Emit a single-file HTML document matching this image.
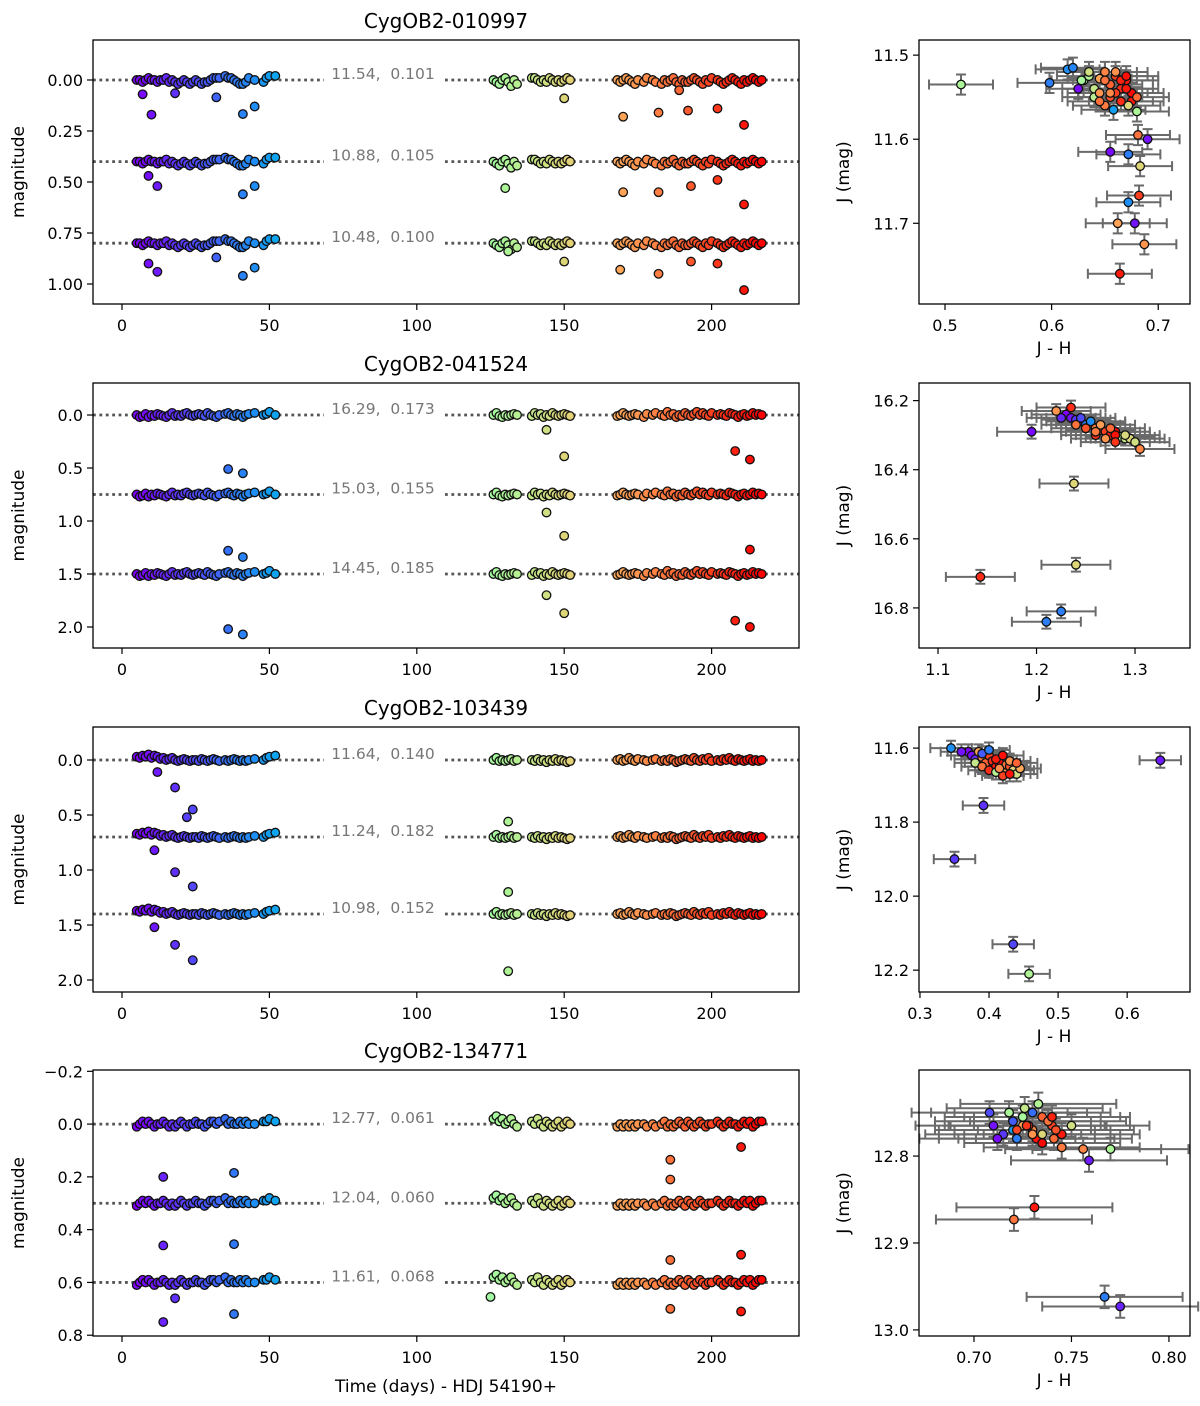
<!DOCTYPE html>
<html><head><meta charset="utf-8"><style>
html,body{margin:0;padding:0;background:#fff}
svg{display:block;font-family:"DejaVu Sans","Liberation Sans",sans-serif}
</style></head><body>
<svg id="fig" width="1200" height="1406" viewBox="0 0 1200 1406" xmlns="http://www.w3.org/2000/svg"></svg>
<script>
// ---- light curve data ----
const times = [5,6,7,8,9,10,11,12,13,14,15,16,17,18,19,20,21,22,23,24,25,26,27,28,29,30,31,32,33,35,36,37,38,39,40,41,42,43,45,48,49,50,52,
126,127,128,129,130,131,132,133,134,139,140,141,142,143,144,145,146,147,148,149,150,151,152,
168,169,170,171,172,173,174,175,177,178,180,181,183,184,185,186,187,188,189,190,191,192,193,194,195,196,197,198,199,200,202,203,204,205,206,207,208,209,210,211,212,213,214,215,216,217];
const dev1 = [0,0,1,0,-1,0,0,1,0,0,-1,1,0,1,2,1,0,1,2,1,0,1,2,1,1,0,-1,-1,-1,-2,-1,-1,0,1,2,2,1,-1,0,1,-1,-2,-2,
0,1,2,0,-1,1,3,0,2,-1,-1,0,1,0,1,-1,0,1,0,1,0,-1,0,
0,1,0,-1,0,1,2,0,1,-1,0,1,2,0,1,0,-1,1,2,0,1,1,0,-1,0,1,2,0,1,-1,0,1,2,1,0,-1,0,1,2,0,1,0,-1,0,1,0];
const dev2 = [0,2,1,-1,2,0,1,-1,0,1,2,0,-2,1,0,1,-1,-2,0,1,0,-1,0,1,-2,0,1,2,0,-1,-2,0,1,-1,0,2,0,-1,-2,0,-1,-3,0,
0,-2,1,2,0,1,0,-1,0,1,-2,0,-1,2,0,1,-2,0,1,0,-1,0,1,
1,0,-2,0,1,0,-1,0,2,-1,0,-2,0,1,-3,0,-1,2,0,1,-2,0,1,-1,-3,0,-2,0,1,-2,0,-1,0,1,-2,-1,0,2,0,-1,1,0,-2,0,-1,0];
const dev3 = [-3,-2,-4,-3,-5,-2,-4,-3,-1,-2,0,-1,-2,0,1,0,-1,0,1,0,0,1,-1,0,1,0,-1,0,1,0,1,0,-1,0,1,0,1,0,-1,0,-2,-3,-4,
0,-2,1,0,1,0,-1,1,0,0,1,-1,1,0,2,0,1,-1,1,0,1,2,1,
0,-1,1,0,-2,0,1,-1,0,1,0,-1,1,0,1,-1,0,2,1,0,-1,0,1,-2,0,1,-1,0,-2,1,0,1,-1,0,-2,0,1,-1,0,1,0,-1,1,0,1,0];
const dev4 = [1,0,-1,0,-1,0,1,0,0,-1,0,1,0,1,0,-1,0,1,0,0,-1,0,0,1,0,-1,-1,0,-1,-2,0,-1,0,0,-1,0,-1,0,0,-1,-1,-2,-1,
-2,-3,-1,-2,0,-1,-2,0,1,-1,0,-2,0,1,-1,0,1,0,-1,1,0,-1,0,
1,0,1,0,1,0,1,0,0,1,0,1,0,-1,1,0,1,0,-1,0,1,-1,0,1,0,-1,0,1,0,0,-1,0,1,0,-1,0,0,1,0,-1,0,-1,1,0,-1,-1];
const titles = ["CygOB2-010997","CygOB2-041524","CygOB2-103439","CygOB2-134771"];
const offsets1 = [0,0.4,0.8], offsets2 = [0,0.75,1.5], offsets3 = [0,0.7,1.4], offsets4 = [0,0.3,0.6];
const labels1 = ["11.54,  0.101","10.88,  0.105","10.48,  0.100"];
const labels2 = ["16.29,  0.173","15.03,  0.155","14.45,  0.185"];
const labels3 = ["11.64,  0.140","11.24,  0.182","10.98,  0.152"];
const labels4 = ["12.77,  0.061","12.04,  0.060","11.61,  0.068"];
const outl1 = [[7,0.07],[10,0.17],[18,0.065],[32,0.085],[41,0.167],[45,0.13],[150,0.09],[170,0.18],[182,0.16],[189,0.05],[192,0.15],[202,0.14],[211,0.22],
[9,0.47],[12,0.52],[41,0.56],[45,0.52],[130,0.53],[170,0.55],[182,0.55],[193,0.52],[202,0.49],[211,0.61],
[9,0.90],[12,0.94],[32,0.87],[41,0.96],[45,0.92],[131,0.84],[150,0.89],[169,0.93],[182,0.95],[193,0.89],[202,0.90],[211,1.03]];
const outl2 = [[144,0.14],[150,0.39],[208,0.34],[213,0.42],[36,0.51],[41,0.55],[144,0.92],[150,1.14],
[36,1.28],[41,1.34],[144,1.70],[150,1.87],[36,2.02],[41,2.07],[208,1.94],[213,2.0],[213,1.27]];
const outl3 = [[12,0.11],[18,0.25],[22,0.52],[24,0.45],[11,0.82],[18,1.02],[24,1.15],[131,0.56],
[11,1.52],[18,1.68],[24,1.82],[131,1.20],[131,1.92]];
const outl4 = [[14,0.2],[38,0.185],[186,0.135],[186,0.21],[210,0.087],[14,0.46],[38,0.455],[186,0.515],[210,0.495],
[14,0.75],[18,0.66],[38,0.72],[186,0.70],[210,0.71],[125,0.655]];
const yTicks1 = [0,0.25,0.5,0.75,1.0], yTickLab1 = ["0.00","0.25","0.50","0.75","1.00"];
const yTicks2 = [0,0.5,1,1.5,2], yTickLab2 = ["0.0","0.5","1.0","1.5","2.0"];
const yTicks4 = [-0.2,0,0.2,0.4,0.6,0.8], yTickLab4 = ["\u22120.2","0.0","0.2","0.4","0.6","0.8"];
const xTicks = [0,50,100,150,200];
// ---- colour-magnitude data ----
const cmJH1 = [0.63,0.635,0.64,0.645,0.65,0.655,0.66,0.665,0.67,0.675,0.64,0.645,0.65,0.655,0.66,0.665,0.67,0.675,0.68,0.65,0.655,0.66,0.665,0.67,0.628,0.625,0.635,0.658,0.645,0.672,
0.515,0.598,0.615,0.62,0.69,0.655,0.672,0.683,0.682,0.672,0.662,0.678,0.687,0.664,0.681,0.680];
const cmJ1 = [11.53,11.525,11.54,11.528,11.52,11.535,11.525,11.54,11.53,11.545,11.55,11.545,11.53,11.55,11.545,11.555,11.54,11.555,11.55,11.56,11.545,11.52,11.53,11.525,11.53,11.54,11.52,11.565,11.555,11.56,
11.535,11.533,11.517,11.515,11.60,11.615,11.618,11.632,11.667,11.675,11.70,11.70,11.725,11.76,11.595,11.567];
const cmT1 = [130,132,140,170,180,190,200,205,210,215,135,175,185,195,200,205,210,212,188,183,178,176,208,213,128,8,145,50,186,150,
130,40,45,42,10,8,40,150,200,45,170,10,175,210,185,130];
const cmJH2 = [1.23,1.235,1.24,1.245,1.25,1.255,1.26,1.265,1.27,1.275,1.28,1.285,1.29,1.295,1.30,1.24,1.25,1.26,1.27,1.28,1.29,1.245,1.255,1.265,1.275,1.225,1.235,1.26,1.28,1.22,
1.238,1.143,1.24,1.225,1.21,1.195,1.305];
const cmJ2 = [16.24,16.25,16.255,16.26,16.27,16.265,16.28,16.285,16.29,16.3,16.29,16.305,16.31,16.31,16.32,16.27,16.28,16.3,16.31,16.3,16.3,16.25,16.26,16.27,16.28,16.25,16.22,16.29,16.32,16.23,
16.44,16.71,16.675,16.81,16.84,16.29,16.34];
const cmT2 = [5,10,20,30,40,170,180,190,200,210,215,130,140,150,145,185,195,205,175,212,148,25,45,172,188,15,205,183,203,175,
150,205,150,40,40,8,180];
const cmJH3 = [0.37,0.375,0.38,0.385,0.39,0.395,0.40,0.405,0.41,0.415,0.42,0.425,0.43,0.435,0.44,0.38,0.39,0.40,0.41,0.42,0.43,0.445,0.39,0.40,0.41,0.42,0.43,0.36,0.44,0.415,
0.345,0.648,0.392,0.35,0.435,0.458];
const cmJ3 = [11.61,11.62,11.63,11.61,11.625,11.64,11.62,11.635,11.65,11.64,11.66,11.645,11.65,11.66,11.67,11.64,11.65,11.66,11.63,11.62,11.635,11.655,11.615,11.605,11.665,11.675,11.67,11.61,11.64,11.655,
11.60,11.633,11.755,11.90,12.13,12.21];
const cmT3 = [5,8,15,170,180,190,200,205,210,215,172,185,195,150,145,140,185,205,210,213,175,168,30,40,135,200,212,10,190,178,
45,12,18,20,24,131];
const cmJH4 = [0.71,0.715,0.72,0.725,0.73,0.735,0.74,0.745,0.718,0.722,0.728,0.732,0.738,0.742,0.726,0.73,0.735,0.74,0.72,0.725,0.73,0.735,0.712,0.745,0.75,0.708,0.722,0.733,0.741,0.727,
0.7205,0.731,0.767,0.775,0.77,0.759,0.756];
const cmJ4 = [12.765,12.775,12.76,12.765,12.77,12.755,12.765,12.775,12.75,12.78,12.765,12.78,12.76,12.77,12.745,12.775,12.785,12.755,12.77,12.755,12.75,12.775,12.78,12.79,12.765,12.75,12.77,12.74,12.78,12.765,
12.873,12.859,12.962,12.973,12.792,12.805,12.792];
const cmT4 = [10,20,30,170,180,190,200,210,130,40,205,212,185,195,140,175,215,208,50,128,35,150,8,183,145,25,198,132,188,202,
185,210,40,14,130,12,180];
const errJH = [0.03,0.035,0.03,0.04], errJ = [0.012,0.02,0.02,0.013];
const cmXT = [[0.5,0.6,0.7],[1.1,1.2,1.3],[0.3,0.4,0.5,0.6],[0.70,0.75,0.80]];
const cmXL = [["0.5","0.6","0.7"],["1.1","1.2","1.3"],["0.3","0.4","0.5","0.6"],["0.70","0.75","0.80"]];
const cmYT = [[11.5,11.6,11.7],[16.2,16.4,16.6,16.8],[11.6,11.8,12.0,12.2],[12.8,12.9,13.0]];
const cmYL = [["11.5","11.6","11.7"],["16.2","16.4","16.6","16.8"],["11.6","11.8","12.0","12.2"],["12.8","12.9","13.0"]];

const NS="http://www.w3.org/2000/svg";
const svg=document.getElementById('fig');
function el(tag,attrs,parent,txt){const e=document.createElementNS(NS,tag);for(const k in attrs)e.setAttribute(k,attrs[k]);if(txt!==undefined)e.textContent=txt;(parent||svg).appendChild(e);return e;}
function rainbow(t){const x=Math.max(0,Math.min(1,(t-5)/212));const r=Math.min(1,Math.abs(2*x-0.5)),g=Math.sin(Math.PI*x),b=Math.cos(Math.PI*x/2);
return `rgb(${Math.round(r*255)},${Math.round(g*255)},${Math.round(b*255)})`;}

const panTop=[40,383,727,1070], panBot=[304,648,992,1336];
const LX0=93,LX1=799,RX0=919,RX1=1190;
const xLin=t=>122+(t)*2.948;
const yDom=[[-0.196,1.098],[-0.302,2.198],[-0.3,2.109],[-0.205,0.803]];
const devs=[dev1,dev2,dev3,dev4], offs=[offsets1,offsets2,offsets3,offsets4], labs=[labels1,labels2,labels3,labels4], outs=[outl1,outl2,outl3,outl4];
const yts=[yTicks1,yTicks2,yTicks2,yTicks4], ytl=[yTickLab1,yTickLab2,yTickLab2,yTickLab4];
const cmX=[[0.4756,0.7298],[1.0807,1.3558],[0.2986,0.691],[0.6718,0.8108]];
const cmY=[[11.482,11.796],[16.149,16.916],[11.543,12.259],[12.701,13.007]];
const cmData=[[cmJH1,cmJ1,cmT1],[cmJH2,cmJ2,cmT2],[cmJH3,cmJ3,cmT3],[cmJH4,cmJ4,cmT4]];

for(let p=0;p<4;p++){
  const top=panTop[p],bot=panBot[p];
  const yS=v=>top+(v-yDom[p][0])/(yDom[p][1]-yDom[p][0])*(bot-top);
  const g=el('g',{});
  
  
  const t=el('text',{x:446,y:top-12,'font-size':20,'text-anchor':'middle',fill:'#000'},g,titles[p]);
  
  
  offs[p].forEach((o,k)=>{
    const ln=el('line',{x1:LX0,x2:LX1,y1:yS(o),y2:yS(o),stroke:'#555','stroke-width':2.8,'stroke-dasharray':'2.8,3.6'},g);
    
    
    el('rect',{x:324,y:yS(o)-10,width:118,height:16,fill:'#fff'},g);
    const lt=el('text',{x:383,y:yS(o)-1,'font-size':15.5,'text-anchor':'middle',fill:'#777','xml:space':'preserve'},g,labs[p][k]);
    lt.style.whiteSpace='pre';
    
    
  });
  offs[p].forEach(o=>{
    times.forEach((tm,i)=>{
      const c=el('circle',{cx:xLin(tm),cy:yS(o+devs[p][i]/100),r:4.3,fill:rainbow(tm),stroke:'#111','stroke-width':1.3},g);
      
      
    });
  });
  outs[p].forEach(([tm,v])=>{
    const c=el('circle',{cx:xLin(tm),cy:yS(v),r:4.3,fill:rainbow(tm),stroke:'#111','stroke-width':1.3},g);
    
    
  });
  const fr=el('rect',{x:LX0,y:top,width:LX1-LX0,height:bot-top,fill:'none',stroke:'#000','stroke-width':1.3},g);
  
  
  yts[p].forEach((v,k)=>{
    el('line',{x1:LX0-6,x2:LX0,y1:yS(v),y2:yS(v),stroke:'#000','stroke-width':1.2},g);
    const tl=el('text',{x:LX0-10,y:yS(v)+6,'font-size':16,'text-anchor':'end'},g,ytl[p][k]);
    
    
  });
  xTicks.forEach(v=>{
    el('line',{x1:xLin(v),x2:xLin(v),y1:bot,y2:bot+6,stroke:'#000','stroke-width':1.2},g);
    const tl=el('text',{x:xLin(v),y:bot+27,'font-size':16,'text-anchor':'middle'},g,String(v));
    
    
  });
  const yl=el('text',{x:0,y:0,'font-size':17,'text-anchor':'middle',transform:`translate(24,${(top+bot)/2}) rotate(-90)`},g,'magnitude');
  
  

  const cx=v=>RX0+(v-cmX[p][0])/(cmX[p][1]-cmX[p][0])*(RX1-RX0);
  const cy=v=>top+(v-cmY[p][0])/(cmY[p][1]-cmY[p][0])*(bot-top);
  const h=el('g',{});
  
  
  const [JH,J,T]=cmData[p];
  const ex=errJH[p], ey=errJ[p];
  JH.forEach((v,i)=>{
    const X=cx(v),Y=cy(J[i]),x0=cx(v-ex),x1=cx(v+ex),y0=cy(J[i]-ey),y1=cy(J[i]+ey);
    el('path',{d:`M${x0},${Y}H${x1}M${X},${y0}V${y1}M${x0},${Y-5}V${Y+5}M${x1},${Y-5}V${Y+5}M${X-5},${y0}H${X+5}M${X-5},${y1}H${X+5}`,stroke:'#6a6a6a','stroke-width':2,fill:'none'},h);
  });
  JH.forEach((v,i)=>{
    const c=el('circle',{cx:cx(v),cy:cy(J[i]),r:4.3,fill:rainbow(T[i]),stroke:'#111','stroke-width':1.3},h);
    
    
  });
  el('rect',{x:RX0,y:top,width:RX1-RX0,height:bot-top,fill:'none',stroke:'#000','stroke-width':1.3},h);
  cmXT[p].forEach((v,k)=>{
    el('line',{x1:cx(v),x2:cx(v),y1:bot,y2:bot+6,stroke:'#000','stroke-width':1.2},h);
    const tl=el('text',{x:cx(v),y:bot+27,'font-size':16,'text-anchor':'middle'},h,cmXL[p][k]);
    
    
  });
  cmYT[p].forEach((v,k)=>{
    el('line',{x1:RX0-6,x2:RX0,y1:cy(v),y2:cy(v),stroke:'#000','stroke-width':1.2},h);
    const tl=el('text',{x:RX0-10,y:cy(v)+6,'font-size':16,'text-anchor':'end'},h,cmYL[p][k]);
    
    
  });
  const xt=el('text',{x:1054,y:bot+50,'font-size':17,'text-anchor':'middle'},h,'J - H');
  
  
  const yt=el('text',{x:0,y:0,'font-size':17,'text-anchor':'middle',transform:`translate(849,${(top+bot)/2}) rotate(-90)`},h,'J (mag)');
  
  
}
const bx=el('text',{x:446,y:1392,'font-size':17,'text-anchor':'middle'},svg,'Time (days) - HDJ 54190+');


</script>
</body></html>
